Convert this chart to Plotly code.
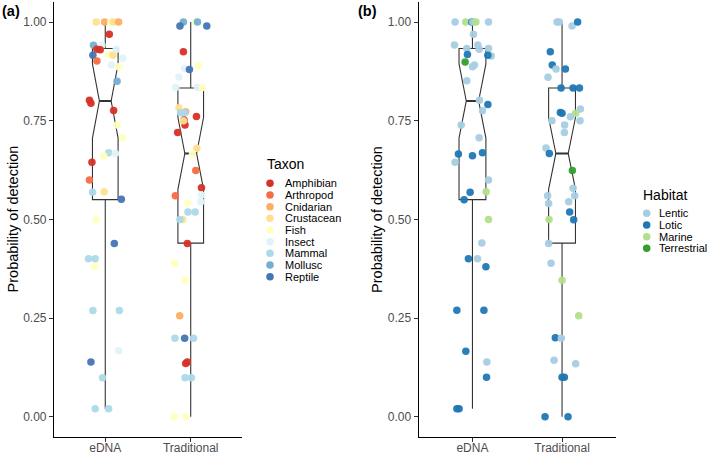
import plotly.graph_objects as go

W, H = 709, 454

# ---------------- data ----------------
categories = ["eDNA", "Traditional"]
y_ticks = [0.0, 0.25, 0.5, 0.75, 1.0]

taxa = ["Amphibian", "Arthropod", "Cnidarian", "Crustacean", "Fish",
        "Insect", "Mammal", "Mollusc", "Reptile"]
taxon_colors = ["#d73027", "#f46d43", "#fdae61", "#fee090", "#ffffbf",
                "#e0f3f8", "#abd9e9", "#74add1", "#4575b4"]
habitats = ["Lentic", "Lotic", "Marine", "Terrestrial"]
habitat_colors = ["#a6cee3", "#1f78b4", "#b2df8a", "#33a02c"]

# box statistics (eDNA, Traditional)
box_q1 = [0.55, 0.44]
box_median = [0.80, 0.667]
box_q3 = [0.933, 0.833]
box_lower = [0.02, 0.0]
box_upper = [1.0, 1.0]
box_notch = [0.094, 0.091]

# panel (a): points by taxon
a_edna_value = [1.0, 1.0, 1.0, 1.0, 1.0, 0.969, 0.941, 0.941, 0.931, 0.930, 0.916, 0.901,
                0.918, 0.916, 0.931, 0.908, 0.891, 0.887, 0.850, 0.802, 0.794, 0.776,
                0.739, 0.707, 0.669, 0.667, 0.661, 0.645, 0.600, 0.569, 0.570, 0.551,
                0.500, 0.439, 0.400, 0.400, 0.381, 0.269, 0.269, 0.167, 0.139, 0.099,
                0.020, 0.020]
a_edna_taxon = ["Crustacean", "Cnidarian", "Fish", "Crustacean", "Cnidarian", "Amphibian",
                "Mollusc", "Insect", "Amphibian", "Amphibian", "Reptile", "Arthropod",
                "Fish", "Crustacean", "Insect", "Insect", "Insect", "Fish", "Mollusc",
                "Amphibian", "Amphibian", "Amphibian", "Fish", "Fish", "Mammal", "Insect",
                "Fish", "Amphibian", "Arthropod", "Mammal", "Crustacean", "Reptile",
                "Fish", "Reptile", "Mammal", "Mammal", "Fish", "Mammal", "Mammal",
                "Insect", "Reptile", "Mammal", "Mammal", "Mammal"]
a_edna_jitter = [-0.106, -0.008, 0.065, 0.094, 0.156, 0.047, -0.138, -0.039, -0.098, -0.059,
                 -0.145, -0.098, 0.039, 0.091, 0.129, 0.204, 0.071, 0.156, 0.138, -0.185,
                 -0.168, 0.098, 0.138, 0.204, 0.039, 0.118, -0.020, -0.156, -0.185, -0.149,
                 -0.012, 0.188, -0.106, 0.106, -0.196, -0.118, -0.121, -0.145, 0.165,
                 0.156, -0.168, -0.032, -0.118, 0.039]

a_trad_value = [1.0, 0.99, 1.0, 1.0, 0.99, 0.925, 0.890, 0.882, 0.880, 0.861, 0.834, 0.834,
                0.834, 0.783, 0.773, 0.770, 0.770, 0.761, 0.752, 0.739, 0.750, 0.720,
                0.680, 0.666, 0.624, 0.580, 0.560, 0.562, 0.545, 0.541, 0.519, 0.519,
                0.500, 0.500, 0.439, 0.389, 0.346, 0.256, 0.199, 0.199, 0.199, 0.135,
                0.139, 0.099, 0.099, 0.0, 0.0]
a_trad_taxon = ["Mollusc", "Reptile", "Fish", "Mollusc", "Reptile", "Amphibian", "Fish",
                "Insect", "Reptile", "Insect", "Insect", "Insect", "Fish", "Crustacean",
                "Cnidarian", "Mammal", "Mammal", "Amphibian", "Amphibian", "Amphibian",
                "Crustacean", "Amphibian", "Crustacean", "Fish", "Arthropod", "Amphibian",
                "Arthropod", "Insect", "Insect", "Fish", "Mammal", "Mammal", "Crustacean",
                "Mammal", "Amphibian", "Fish", "Fish", "Cnidarian", "Mammal", "Reptile",
                "Mammal", "Amphibian", "Amphibian", "Mammal", "Mammal", "Fish", "Fish"]
a_trad_jitter = [-0.086, -0.126, 0.059, 0.079, 0.188, -0.086, 0.091, -0.071, -0.015, -0.138,
                 -0.176, 0.079, 0.138, -0.138, -0.059, -0.118, -0.071, 0.067, -0.079,
                 -0.067, -0.086, -0.153, 0.071, 0.020, 0.059, 0.126, -0.180, 0.126, 0.118,
                 -0.039, -0.032, 0.051, -0.094, -0.126, -0.039, -0.188, -0.067, -0.129,
                 -0.185, -0.071, 0.032, -0.059, -0.039, -0.067, 0.008, -0.196, -0.059]

# panel (b): points by habitat
b_edna_value = [1.0, 1.0, 1.0, 1.0, 1.0, 1.0, 0.969, 0.942, 0.933, 0.942, 0.931, 0.933,
                0.914, 0.918, 0.916, 0.899, 0.887, 0.891, 0.851, 0.802, 0.791, 0.775,
                0.739, 0.707, 0.666, 0.661, 0.669, 0.645, 0.600, 0.569, 0.570, 0.550,
                0.500, 0.440, 0.400, 0.400, 0.380, 0.270, 0.270, 0.166, 0.139, 0.100,
                0.020, 0.020]
b_edna_habitat = ["Lentic", "Marine", "Lotic", "Lentic", "Marine", "Lentic", "Lentic",
                  "Lentic", "Lentic", "Lentic", "Lentic", "Lentic", "Lentic", "Lotic",
                  "Lotic", "Terrestrial", "Lentic", "Lentic", "Lentic", "Lentic", "Lotic",
                  "Lentic", "Lentic", "Lentic", "Lotic", "Lotic", "Lotic", "Lentic",
                  "Lentic", "Lotic", "Marine", "Lotic", "Marine", "Lentic", "Lotic",
                  "Lentic", "Lotic", "Lotic", "Lotic", "Lotic", "Lentic", "Lotic",
                  "Lotic", "Lotic"]
b_edna_jitter = [-0.194, -0.074, -0.007, 0.004, 0.038, 0.179, 0.011, -0.201, -0.063, 0.060,
                 0.075, 0.179, 0.209, -0.056, 0.172, -0.082, 0.0, 0.022, -0.063, 0.078,
                 0.172, 0.112, -0.126, 0.075, -0.157, 0.0, 0.112, -0.194, 0.179, -0.026,
                 0.153, -0.093, 0.179, 0.105, -0.045, 0.056, 0.150, -0.174, 0.128, -0.074,
                 0.161, 0.157, -0.174, -0.149]

b_trad_value = [1.0, 1.0, 0.990, 1.0, 0.925, 0.891, 0.881, 0.881, 0.860, 0.833, 0.833,
                0.833, 0.771, 0.769, 0.780, 0.769, 0.760, 0.750, 0.750, 0.739, 0.720,
                0.681, 0.667, 0.624, 0.579, 0.560, 0.560, 0.540, 0.545, 0.519, 0.499,
                0.500, 0.439, 0.389, 0.346, 0.256, 0.200, 0.199, 0.143, 0.134, 0.100,
                0.100, 0.0, 0.0]
b_trad_habitat = ["Lentic", "Lentic", "Lentic", "Lotic", "Lotic", "Lotic", "Lentic", "Lotic",
                  "Lentic", "Lotic", "Lotic", "Lotic", "Lotic", "Lotic", "Lentic", "Marine",
                  "Lentic", "Lentic", "Lentic", "Lentic", "Lentic", "Lentic", "Lotic",
                  "Terrestrial", "Lentic", "Lentic", "Lentic", "Lentic", "Lentic", "Lotic",
                  "Lotic", "Marine", "Lentic", "Lentic", "Marine", "Marine", "Lotic",
                  "Lentic", "Lentic", "Lentic", "Lotic", "Lotic", "Lotic", "Lotic"]
b_trad_jitter = [-0.056, -0.030, 0.112, 0.174, -0.131, -0.109, -0.067, 0.037, -0.157, -0.011,
                 0.123, 0.194, -0.019, 0.0, 0.205, 0.152, 0.093, -0.112, 0.201, 0.029,
                 0.026, -0.179, -0.142, 0.115, 0.123, -0.161, 0.141, -0.150, 0.074, 0.085,
                 0.130, -0.145, -0.150, -0.123, 0.0, 0.186, -0.075, -0.008, -0.089, 0.152,
                 0.0, 0.026, -0.190, 0.067]

# ---------------- layout constants ----------------
FONT = "Liberation Sans, Arial, Helvetica, sans-serif"
BOX_W = 0.3
NOTCH_W = 0.27
PT_SIZE = 7.5
LINE_C = "#333333"

def px_x(p):
    return p / W

def px_y(p):
    return (H - p) / H

panels = [
    dict(xa="x", ya="y", xdom=[px_x(54), px_x(242)]),
    dict(xa="x2", ya="y2", xdom=[px_x(418.7), px_x(615.8)]),
]
ydom = [px_y(436.5), px_y(2.3)]

fig = go.Figure()

cat_pos = [1, 2]
for p in panels:
    fig.add_trace(go.Box(
        x=cat_pos, q1=box_q1, median=box_median, q3=box_q3,
        lowerfence=box_lower, upperfence=box_upper, notchspan=box_notch,
        notched=True, notchwidth=NOTCH_W, width=BOX_W, whiskerwidth=0,
        line=dict(color=LINE_C, width=1.1), fillcolor="white",
        boxpoints=False, showlegend=False, hoverinfo="skip",
        xaxis=p["xa"], yaxis=p["ya"]))
    mx, my = [], []
    half = BOX_W / 2 * (1 - 2 * NOTCH_W)
    for c, m in zip(cat_pos, box_median):
        mx += [c - half, c + half, None]
        my += [m, m, None]
    fig.add_trace(go.Scatter(x=mx, y=my, mode="lines",
                             line=dict(color=LINE_C, width=2.2),
                             showlegend=False, hoverinfo="skip",
                             xaxis=p["xa"], yaxis=p["ya"]))

taxon_map = dict(zip(taxa, taxon_colors))
habitat_map = dict(zip(habitats, habitat_colors))

def add_points(values, groups, jitter, cmap, pos, xa, ya):
    fig.add_trace(go.Scatter(
        x=[pos + j for j in jitter], y=values, mode="markers",
        marker=dict(size=PT_SIZE, color=[cmap[g] for g in groups], line=dict(width=0),
                    opacity=0.95),
        showlegend=False, hoverinfo="skip", xaxis=xa, yaxis=ya))

add_points(a_edna_value, a_edna_taxon, a_edna_jitter, taxon_map, 1, "x", "y")
add_points(a_trad_value, a_trad_taxon, a_trad_jitter, taxon_map, 2, "x", "y")
add_points(b_edna_value, b_edna_habitat, b_edna_jitter, habitat_map, 1, "x2", "y2")
add_points(b_trad_value, b_trad_habitat, b_trad_jitter, habitat_map, 2, "x2", "y2")

xaxis_common = dict(range=[0.4, 2.6], tickvals=cat_pos, ticktext=categories,
                    showgrid=False, zeroline=False, showline=True, linecolor="black",
                    linewidth=1.2, ticks="outside", ticklen=4, tickwidth=1.1,
                    tickcolor=LINE_C, tickfont=dict(family=FONT, size=12, color="#4d4d4d"),
                    ticklabelstandoff=-4,
                    fixedrange=True, automargin=False)
yaxis_common = dict(range=[-0.05, 1.05], tickvals=y_ticks, tickformat=".2f",
                    showgrid=False, zeroline=False, showline=True, linecolor="black",
                    linewidth=1.2, ticks="outside", ticklen=4, tickwidth=1.1,
                    tickcolor=LINE_C, tickfont=dict(family=FONT, size=12, color="#4d4d4d"),
                    domain=ydom, fixedrange=True, automargin=False)

fig.update_layout(
    width=W, height=H, autosize=False,
    margin=dict(l=0, r=0, t=0, b=0, autoexpand=False),
    paper_bgcolor="white", plot_bgcolor="white",
    boxmode="overlay", showlegend=False,
    font=dict(family=FONT),
    xaxis=dict(xaxis_common, domain=panels[0]["xdom"], anchor="y"),
    yaxis=dict(yaxis_common, anchor="x"),
    xaxis2=dict(xaxis_common, domain=panels[1]["xdom"], anchor="y2"),
    yaxis2=dict(yaxis_common, anchor="x2"),
)

annotations = []
shapes = []

# panel tags and axis titles
for tag, x0 in [("(a)", 0), ("(b)", 356)]:
    annotations.append(dict(text="<b>" + tag + "</b>", x=px_x(x0), y=px_y(10.5),
                            xref="paper", yref="paper", xanchor="left", yanchor="middle",
                            showarrow=False, font=dict(family=FONT, size=14.5, color="black")))
for xc in [13, 377.5]:
    annotations.append(dict(text="Probability of detection", x=px_x(xc), y=px_y(219.4),
                            xref="paper", yref="paper", xanchor="center", yanchor="middle",
                            textangle=-90, showarrow=False,
                            font=dict(family=FONT, size=14.5, color="black")))

# manual legends
def legend(title, labels, colors, title_x, title_y, mark_x, text_x, first_y, step=11.67):
    annotations.append(dict(text=title, x=px_x(title_x), y=px_y(title_y), xref="paper",
                            yref="paper", xanchor="left", yanchor="middle", showarrow=False,
                            font=dict(family=FONT, size=14, color="black")))
    for i, (lab, col) in enumerate(zip(labels, colors)):
        yy = first_y + i * step
        shapes.append(dict(type="circle", xref="paper", yref="paper",
                           xsizemode="pixel", ysizemode="pixel",
                           xanchor=px_x(mark_x), yanchor=px_y(yy),
                           x0=-PT_SIZE / 2, x1=PT_SIZE / 2, y0=-PT_SIZE / 2, y1=PT_SIZE / 2,
                           fillcolor=col, line=dict(width=0)))
        annotations.append(dict(text=lab, x=px_x(text_x), y=px_y(yy), xref="paper",
                                yref="paper", xanchor="left", yanchor="middle",
                                showarrow=False,
                                font=dict(family=FONT, size=11, color="black")))

legend("Taxon", taxa, taxon_colors, 264.5, 164, 270, 283, 183.3)
legend("Habitat", habitats, habitat_colors, 641, 194.5, 646.7, 657, 213.3)

fig.update_layout(annotations=annotations, shapes=shapes)

fig.write_html("out.html", config={"displayModeBar": False},
               post_script="document.body.style.margin='0';document.body.style.padding='0';")
